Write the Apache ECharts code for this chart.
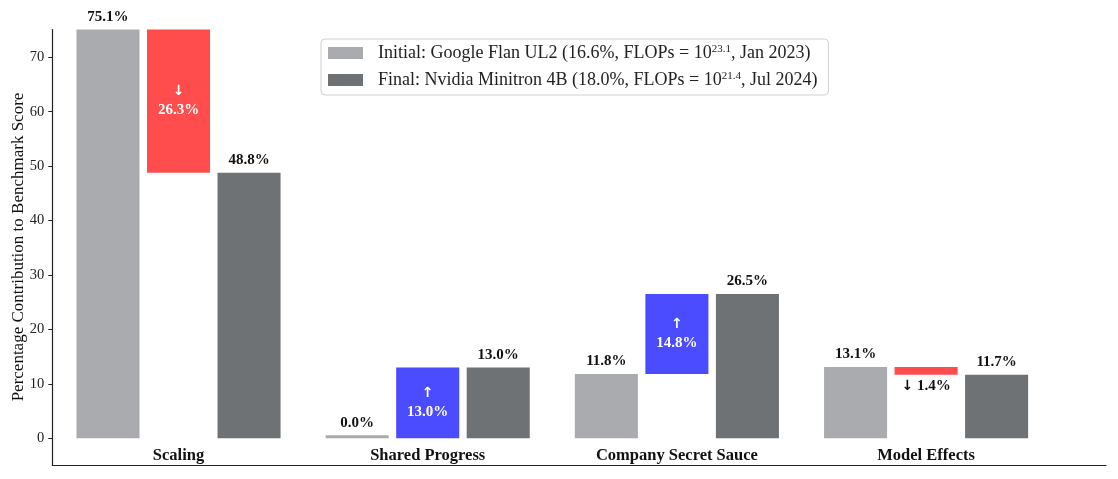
<!DOCTYPE html>
<html>
<head>
<meta charset="utf-8">
<script src="https://cdn.jsdelivr.net/npm/echarts@6/dist/echarts.min.js"></script>
<style>html,body{margin:0;padding:0;background:#fff}#c{width:1118px;height:479px}</style>
</head>
<body>
<div id="c"></div>
<script>
const categories = ['Scaling', 'Shared Progress', 'Company Secret Sauce', 'Model Effects'];
const initialValues = [75.1, 0.0, 11.8, 13.1];
const finalValues = [48.8, 13.0, 26.5, 11.7];
const changeValues = [-26.3, 13.0, 14.8, -1.4];
const yTicks = [0, 10, 20, 30, 40, 50, 60, 70];
const yAxisTitle = 'Percentage Contribution to Benchmark Score';
const legendLabels = {
  Initial: 'Initial: Google Flan UL2 (16.6%, FLOPs = 10{sup|23.1}, Jan 2023)',
  Final: 'Final: Nvidia Minitron 4B (18.0%, FLOPs = 10{sup|21.4}, Jul 2024)'
};

const FONT = '"Liberation Serif", "DejaVu Serif", serif';
const BW = 0.253, OFF = 0.283;
const C_INIT = '#aaabaf', C_FINAL = '#6e7275', C_DOWN = '#ff4c4c', C_UP = '#4b4bff';

function barRect(api, x, y0, y1, minH) {
  const a = api.coord([x - BW / 2, y0]);
  const b = api.coord([x + BW / 2, y1]);
  let top = Math.min(a[1], b[1]), bot = Math.max(a[1], b[1]);
  if (bot - top < minH) top = bot - minH;
  return {x: a[0], y: top, width: b[0] - a[0], height: bot - top};
}

function valueBar(offset, color) {
  return function (params, api) {
    const idx = api.value(0), v = api.value(1);
    const r = barRect(api, idx + offset, 0, v, 3);
    return {
      type: 'group',
      children: [
        {type: 'rect', shape: r, style: {fill: color}},
        {type: 'text', style: {x: r.x + r.width / 2, y: r.y - 5, text: v.toFixed(1) + '%',
          fill: '#111', font: 'bold 15px ' + FONT, align: 'center', verticalAlign: 'bottom'}}
      ]
    };
  };
}

function changeBar(params, api) {
  const idx = api.value(0), a = api.value(1), b = api.value(2), d = api.value(3);
  const r = barRect(api, idx, a, b, 0);
  const color = d < 0 ? C_DOWN : C_UP;
  const arrow = d < 0 ? '↓' : '↑';
  const txt = Math.abs(d).toFixed(1) + '%';
  const children = [{type: 'rect', shape: r, style: {fill: color}}];
  if (r.height > 40) {
    children.push({type: 'text', style: {x: r.x + r.width / 2, y: r.y + r.height / 2,
      text: '{a|' + arrow + '}\n' + txt, fill: '#fff', font: 'bold 15px ' + FONT, lineHeight: 19,
      align: 'center', verticalAlign: 'middle',
      rich: {a: {fontFamily: '"DejaVu Sans", sans-serif', fontWeight: 'bold', fontSize: 14, lineHeight: 19, fill: '#fff'}}}});
  } else {
    children.push({type: 'text', style: {x: r.x + r.width / 2, y: r.y + r.height + 4,
      text: '{a|' + arrow + '} ' + txt, fill: '#111', font: 'bold 15px ' + FONT,
      align: 'center', verticalAlign: 'top',
      rich: {a: {fontFamily: '"DejaVu Sans", sans-serif', fontWeight: 'bold', fontSize: 14, fill: '#111'}}}});
  }
  return {type: 'group', children: children};
}

const chart = echarts.init(document.getElementById('c'), null, {renderer: 'canvas'});
chart.setOption({
  animation: false,
  backgroundColor: '#fff',
  grid: {left: 52.3, right: 12, top: 29.5, bottom: 14, outerBoundsMode: 'none', containLabel: false},
  graphic: [{
    type: 'text', x: 19, y: 247, rotation: Math.PI / 2,
    style: {text: yAxisTitle, font: '17px ' + FONT, fill: '#111', align: 'center', verticalAlign: 'middle'}
  }],
  xAxis: {
    type: 'value', min: -0.5065, max: 3.722,
    axisLine: {show: true, onZero: false, lineStyle: {color: '#222', width: 1.2}},
    axisTick: {show: false}, splitLine: {show: false},
    axisLabel: {
      customValues: [0, 1, 2, 3], inside: true, margin: 1,
      formatter: v => categories[Math.round(v)] || '',
      fontFamily: FONT, fontWeight: 'bold', fontSize: 16.5, color: '#111'
    }
  },
  yAxis: {
    type: 'value', min: -4.9, max: 75.1,
    axisLine: {show: true, onZero: false, lineStyle: {color: '#222', width: 1.2}},
    axisTick: {show: true, customValues: yTicks, length: 4, lineStyle: {color: '#222'}},
    splitLine: {show: false},
    axisLabel: {customValues: yTicks, fontFamily: FONT, fontSize: 14.5, color: '#222', margin: 8}
  },
  legend: {
    data: ['Initial', 'Final'], orient: 'vertical', left: 321, top: 39,
    backgroundColor: '#fff', borderColor: '#d0d0d0', borderWidth: 1, borderRadius: 4,
    padding: [5, 11, 6, 7], itemWidth: 35, itemHeight: 12, itemGap: 9, icon: 'rect',
    formatter: n => legendLabels[n],
    textStyle: {fontFamily: FONT, fontSize: 18, color: '#222', padding: [0, 0, 0, 10],
      rich: {sup: {fontFamily: FONT, fontSize: 11, verticalAlign: 'top', padding: [0, 0, 6, 0]}}}
  },
  series: [
    {name: 'Initial', type: 'custom', itemStyle: {color: C_INIT},
     data: initialValues.map((v, i) => [i, v]), renderItem: valueBar(-OFF, C_INIT),
     encode: {x: 0, y: 1}},
    {name: 'Change', type: 'custom', itemStyle: {color: C_DOWN},
     data: initialValues.map((v, i) => [i, v, finalValues[i], changeValues[i]]), renderItem: changeBar,
     encode: {x: 0, y: [1, 2]}},
    {name: 'Final', type: 'custom', itemStyle: {color: C_FINAL},
     data: finalValues.map((v, i) => [i, v]), renderItem: valueBar(OFF, C_FINAL),
     encode: {x: 0, y: 1}}
  ]
});
</script>
</body>
</html>
